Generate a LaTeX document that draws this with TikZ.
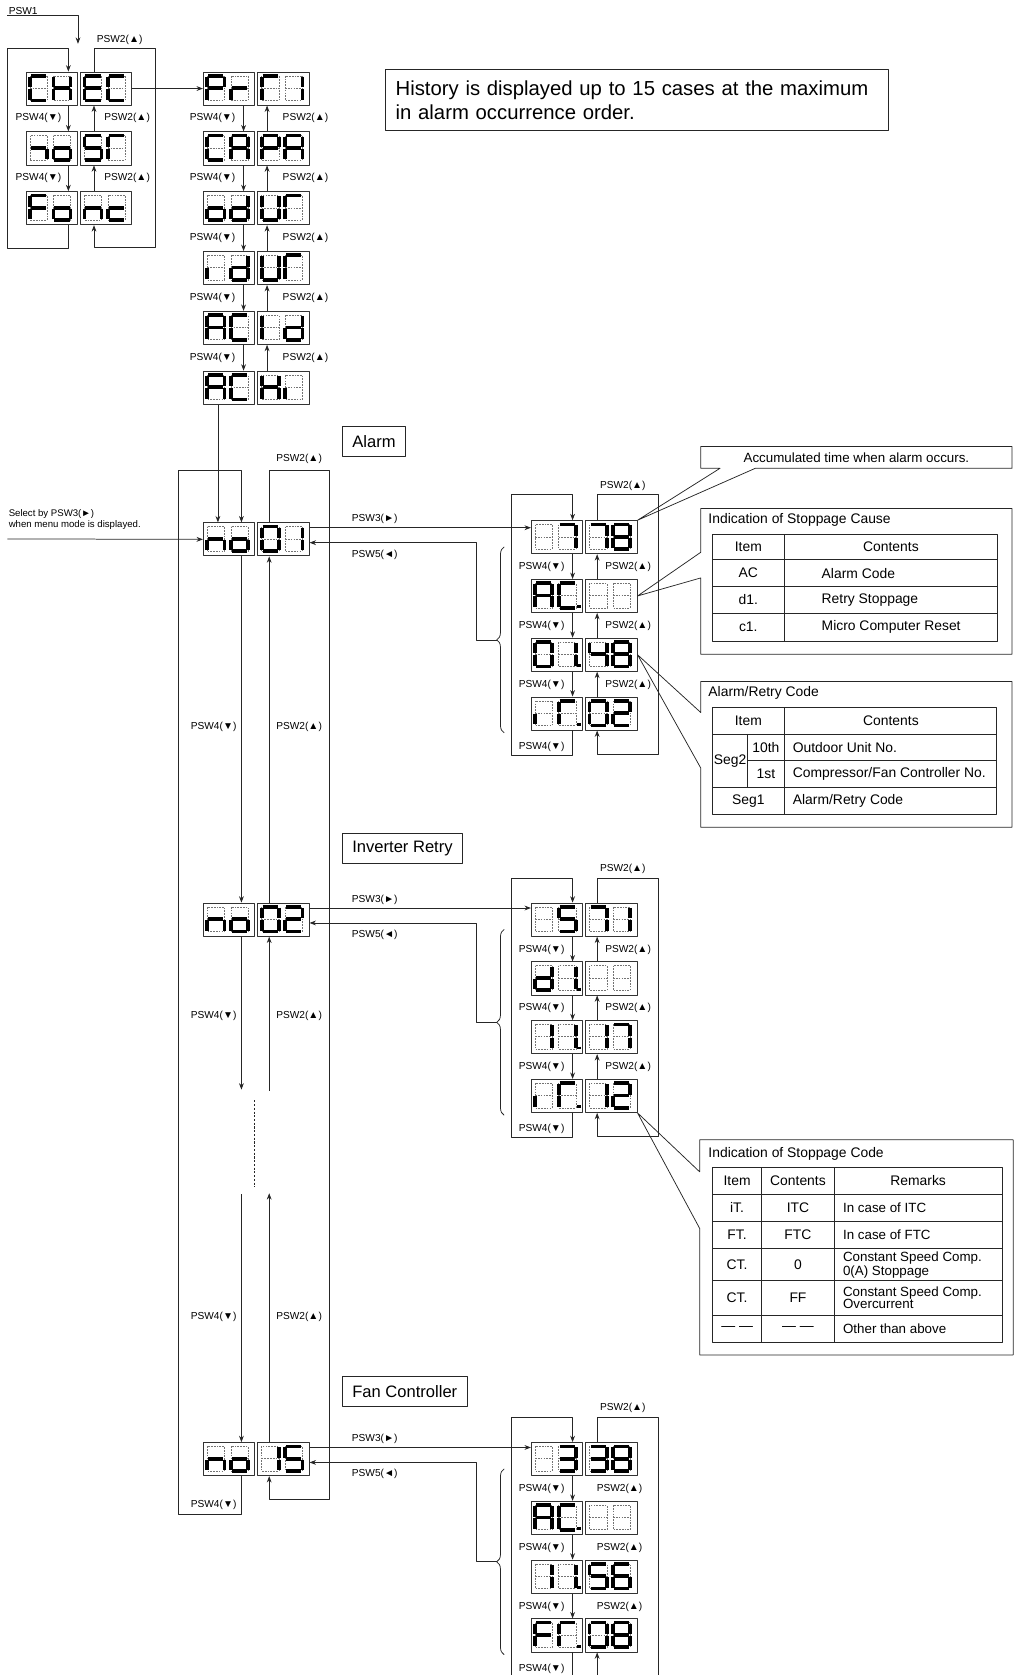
\documentclass[tikz,border=0pt]{standalone}
\usepackage{fontspec}
\setmainfont{Liberation Sans}
\usetikzlibrary{arrows.meta,decorations.pathreplacing}

% seven segment characters
\def\sgA{a,b,c,e,f,g}
\def\sgC{a,d,e,f}
\def\sgCp{a,d,e,f,p}
\def\sgE{a,d,e,f,g}
\def\sgF{a,e,f,g}
\def\sgH{b,c,e,f,g}
\def\sgI{e,f}
\def\sgP{a,b,e,f,g}
\def\sgS{a,f,g,c,d}
\def\sgU{b,c,d,e,f}
\def\sgG{a,e,f}
\def\sgGp{a,e,f,p}
\def\sgc{d,e,g}
\def\sgd{b,c,d,e,g}
\def\sgi{e}
\def\sgj{g,c}
\def\sgn{c,e,g}
\def\sgo{c,d,e,g}
\def\sgr{e,g}
\def\sgZero{a,b,c,d,e,f}
\def\sgOne{b,c}
\def\sgOnep{b,c,p}
\def\sgTwo{a,b,g,e,d}
\def\sgThree{a,b,g,c,d}
\def\sgFour{f,g,b,c}
\def\sgFive{a,f,g,c,d}
\def\sgSix{a,f,g,e,c,d}
\def\sgSeven{a,b,c}
\def\sgEight{a,b,c,d,e,f,g}
\def\sgBlank{z}

\tikzset{
  disp/.style={draw=black!80, line width=0.8pt, anchor=north west, minimum width=48pt, minimum height=31pt, inner sep=0pt},
  segoff/.style={draw=black!55, dash pattern=on 1.6pt off 1pt, line width=0.45pt},
  segon/.style={line width=3.4pt, line cap=butt},
  conn/.style={draw=black!85, line width=0.7pt},
  lbl/.style={inner sep=1pt, font=\fontsize{9.5}{11}\selectfont},
  sect/.style={draw=black!85, line width=0.7pt, anchor=north west, minimum height=28pt, inner xsep=9.5pt, font=\fontsize{15.5}{17}\selectfont},
  note/.style={inner sep=0pt, font=\fontsize{13}{15}\selectfont},
  cell/.style={inner sep=0pt, font=\fontsize{13}{13}\selectfont},
  callout/.style={anchor=north west, inner sep=0pt},
}

% one digit cell: x, y, segments
\newcommand{\dgt}[3]{%
  \begin{scope}[shift={(#1,#2)}]
    \draw[segoff] (0,0) rectangle (16,23) (0,11.5) -- (16,11.5);
    \foreach \s/\ax/\ay/\bx/\by in {a/0.8/0/15.2/0, b/16/0.8/16/10.7, c/16/12.3/16/22.2, d/0.8/23/15.2/23,
        e/0/12.3/0/22.2, f/0/0.8/0/10.7, g/0.8/11.5/15.2/11.5, p/19.3/20.8/19.3/23.4}
      {\coordinate (sg\s1) at (\ax,\ay); \coordinate (sg\s2) at (\bx,\by);}
    \foreach \s in #3 {\if\s z\else\draw[segon] (sg\s1) -- (sg\s2);\fi}
  \end{scope}}

% two boxes of two digits: name, x, y, digits
\newcommand{\disp}[7]{%
  \node[disp] (#1-l) at (#2,#3) {};
  \node[disp] (#1-r) at (#2+51,#3) {};
  \dgt{#2+4}{#3+4}{#4}\dgt{#2+26}{#3+4}{#5}\dgt{#2+55}{#3+4}{#6}\dgt{#2+77}{#3+4}{#7}}

\begin{document}
\begin{tikzpicture}[x=1pt, y=-1pt, line join=round, >={Stealth[length=6pt,width=4.5pt]}]
\useasboundingbox (0,0) rectangle (953,1568);

% menu
\disp{chec}{24}{67}\sgC\sgH\sgE\sgC
\disp{iosr}{24}{123}\sgj\sgo\sgS\sgG
\disp{fonc}{24}{179}\sgF\sgo\sgn\sgc

\disp{prfi}{190}{67}\sgP\sgr\sgG\sgOne
\disp{capa}{190}{123}\sgC\sgA\sgP\sgA
\disp{odur}{190}{179}\sgo\sgd\sgU\sgG
\disp{rdur}{190}{235}\sgi\sgd\sgU\sgG
\disp{acid}{190}{291}\sgA\sgC\sgI\sgd
\disp{achi}{190}{347}\sgA\sgC\sgH\sgi

\node[lbl, anchor=west] (psw1) at (7,10) {PSW1};
\coordinate (psw1end) at (73,41);
\draw[conn,->] (psw1.south west) -| (psw1end);
\node[lbl] (chec-up) at (112,37) {PSW2(▲)};

\foreach \a/\b in {chec/iosr, iosr/fonc} {
  \draw[conn,->] ([xshift=40pt]\a-l.south west) -- ([xshift=40pt]\b-l.north west);
  \draw[conn,->] ([xshift=13pt]\b-r.north west) -- ([xshift=13pt]\a-r.south west);
  \node[lbl] (\b-dn) at ([xshift=12pt,yshift=-12pt]\a-l.south west) {PSW4(▼)};
  \node[lbl] (\b-up) at ([xshift=44pt,yshift=-12pt]\a-r.south west) {PSW2(▲)};
}
\draw[conn,->] ([xshift=40pt]fonc-l.south west) -- ++(0,22) -| (7,45) -| ([xshift=40pt]chec-l.north west);
\draw[conn,->] ([xshift=13pt]chec-r.north west) -- ++(0,-22) -| (145,232) -| ([xshift=13pt]fonc-r.south west);
\draw[conn,->] (chec-r.east) -- (prfi-l.west);

\foreach \a/\b in {prfi/capa, capa/odur, odur/rdur, rdur/acid, acid/achi} {
  \draw[conn,->] ([xshift=38pt]\a-l.south west) -- ([xshift=38pt]\b-l.north west);
  \draw[conn,->] ([xshift=9pt]\b-r.north west) -- ([xshift=9pt]\a-r.south west);
  \node[lbl] (\b-dn) at ([xshift=9pt,yshift=-12pt]\a-l.south west) {PSW4(▼)};
  \node[lbl] (\b-up) at ([xshift=45pt,yshift=-12pt]\a-r.south west) {PSW2(▲)};
}

\node[draw=black!85, line width=0.7pt, anchor=north west, minimum width=471pt, minimum height=57pt,
  text width=451pt, align=left, inner xsep=10pt, font=\fontsize{19}{23}\selectfont] (hist) at (360,65)
  {History is displayed up to 15 cases at the maximum\\in alarm occurrence order.};

% history list
\node[sect] (alarm) at (320,399) {Alarm};
\node[sect] (invr) at (320,780) {Inverter Retry};
\node[sect] (fanc) at (320,1288) {Fan Controller};

\disp{no01}{190}{489}\sgn\sgo\sgZero\sgOne
\disp{no02}{190}{845}\sgn\sgo\sgZero\sgTwo
\disp{no15}{190}{1350}\sgn\sgo\sgOne\sgFive

\draw[conn,->] ([xshift=14pt]achi-l.south west) -- ([xshift=14pt]no01-l.north west);
\node[lbl, anchor=north west, align=left, font=\fontsize{9}{10.5}\selectfont] (sel) at (7,476)
  {Select by PSW3(►)\\when menu mode is displayed.};
\coordinate (selin) at (7,504.5);
\draw[conn,->] (selin) -- (no01-l.west);

\draw[conn,->] ([xshift=36pt]no15-l.south west) -- ++(0,36) -| (167,440) -| ([xshift=36pt]no01-l.north west);
\draw[conn,->] ([xshift=11pt]no01-r.north west) -- ++(0,-49) -| (308,1404) -| ([xshift=11pt]no15-r.south west);
\node[lbl] (no01-top) at (280,430) {PSW2(▲)};
\node[lbl] (no15-bot) at (200,1409) {PSW4(▼)};

\draw[conn,->] ([xshift=36pt]no01-l.south west) -- ([xshift=36pt]no02-l.north west);
\draw[conn,->] ([xshift=11pt]no02-r.north west) -- ([xshift=11pt]no01-r.south west);
\coordinate (gapdn) at (226,1020);
\coordinate (gapup) at (252,1021);
\coordinate (gaptop) at (238,1030);
\coordinate (gapbot) at (238,1111);
\coordinate (gapdn2) at (226,1118);
\coordinate (gapup2) at (252,1117);
\draw[conn,->] ([xshift=36pt]no02-l.south west) -- (gapdn);
\draw[conn,->] (gapup) -- ([xshift=11pt]no02-r.south west);
\draw[conn, dash pattern=on 2pt off 1.5pt, line width=0.5pt] (gaptop) -- (gapbot);
\draw[conn,->] (gapdn2) -- ([xshift=36pt]no15-l.north west);
\draw[conn,->] ([xshift=11pt]no15-r.north west) -- (gapup2);
\foreach \y in {680, 951, 1233} {
  \node[lbl] (dn-\y) at (200,\y) {PSW4(▼)};
  \node[lbl] (up-\y) at (280,\y) {PSW2(▲)};
}

% details
\disp{al1}{497}{487}\sgBlank\sgSeven\sgSeven\sgEight
\disp{al2}{497}{542}\sgA\sgCp\sgBlank\sgBlank
\disp{al3}{497}{597}\sgZero\sgOnep\sgFour\sgEight
\disp{al4}{497}{652}\sgi\sgGp\sgZero\sgTwo

\disp{iv1}{497}{845}\sgBlank\sgFive\sgSeven\sgOne
\disp{iv2}{497}{900}\sgd\sgOnep\sgBlank\sgBlank
\disp{iv3}{497}{955}\sgOne\sgOnep\sgOne\sgSeven
\disp{iv4}{497}{1010}\sgi\sgGp\sgOne\sgTwo

\disp{fn1}{497}{1350}\sgBlank\sgThree\sgThree\sgEight
\disp{fn2}{497}{1405}\sgA\sgCp\sgBlank\sgBlank
\disp{fn3}{497}{1460}\sgOne\sgOnep\sgFive\sgSix
\disp{fn4}{497}{1515}\sgF\sgGp\sgZero\sgEight

\foreach \g/\n/\y in {al/no01/487, iv/no02/845, fn/no15/1350} {
  \path (\n-r.north east) ++(0,5) coordinate (\g-p3) ++(0,14) coordinate (\g-p5);
  \draw[conn,->] (\g-p3) -- (\g-p3 -| \g1-l.west);
  \node[lbl] (\g-p3t) at ([xshift=61pt,yshift=8pt]\g-p3) {PSW3(►)};
  \node[lbl] (\g-p5t) at ([xshift=61pt,yshift=-11pt]\g-p5) {PSW5(◄)};
  \draw[conn, decorate, decoration={brace, amplitude=7pt}] (472,\y+199) -- (472,\y+25);
  \coordinate (\g-br) at (465,\y+112);
  \draw[conn,->] (\g-br) -- ++(-19,0) |- (\g-p5);
  \foreach \a/\b in {1/2, 2/3, 3/4} {
    \draw[conn,->] ([xshift=39pt]\g\a-l.south west) -- ([xshift=39pt]\g\b-l.north west);
    \node[lbl] (\g\b-dn) at ([xshift=10pt,yshift=-12pt]\g\a-l.south west) {PSW4(▼)};
  }
  \node[lbl] (\g-top) at ([xshift=35pt,yshift=32pt]\g1-r.north west) {PSW2(▲)};
  \node[lbl] (\g-bot) at ([xshift=10pt,yshift=-15pt]\g4-l.south west) {PSW4(▼)};
}
\foreach \g in {al, iv} {
  \foreach \a/\b in {1/2, 2/3, 3/4} {
    \draw[conn,->] ([xshift=11pt]\g\b-r.north west) -- ([xshift=11pt]\g\a-r.south west);
    \node[lbl] (\g\b-up) at ([xshift=40pt,yshift=-12pt]\g\a-r.south west) {PSW2(▲)};
  }
}
\draw[conn,->] ([xshift=39pt]al4-l.south west) -- ++(0,23) -| (479,463) -| ([xshift=39pt]al1-l.north west);
\draw[conn,->] ([xshift=11pt]al1-r.north west) -- ++(0,-24) -| (616,706) -| ([xshift=11pt]al4-r.south west);
\draw[conn,->] ([xshift=39pt]iv4-l.south west) -- ++(0,23) -| (479,822) -| ([xshift=39pt]iv1-l.north west);
\draw[conn,->] ([xshift=11pt]iv1-r.north west) -- ++(0,-23) -| (616,1064) -| ([xshift=11pt]iv4-r.south west);

\foreach \a/\b in {1/2, 2/3, 3/4}
  \node[lbl] (fn\b-up) at ([xshift=32pt,yshift=-12pt]fn\a-r.south west) {PSW2(▲)};
\coordinate (fanL) at (479,1568);
\coordinate (fanR) at (616,1568);
\coordinate (fanUp) at (559,1568);
\coordinate (fanDn) at (536,1568);
\draw[conn,->] (fanL) -- ++(0,-241) -| ([xshift=39pt]fn1-l.north west);
\draw[conn] ([xshift=11pt]fn1-r.north west) -- ++(0,-23) -| (fanR);
\draw[conn] ([xshift=39pt]fn4-l.south west) -- (fanDn);
\draw[conn,->] (fanUp) -- ([xshift=11pt]fn4-r.south west);

% call-outs
\node[callout, minimum width=291pt, minimum height=20pt, font=\fontsize{12.5}{14}\selectfont] (acc) at (656,418)
  {Accumulated time when alarm occurs.};
\draw[conn] (acc.north west) -- (acc.south west) -- ([xshift=18pt]acc.south west) -- (al1-r.north east)
  -- ([xshift=51pt]acc.south west) -- (acc.south east) -- (acc.north east) -- cycle;

\node[callout, minimum width=291pt, minimum height=136pt] (cause) at (656,476) {};
\draw[conn] (cause.north west) -- ([yshift=-41pt]cause.north west) -- (al2-r.east)
  -- ([yshift=-65pt]cause.north west) -- (cause.south west) -- (cause.south east) -- (cause.north east) -- cycle;
\node[note, anchor=west] (cause-t) at (663,487) {Indication of Stoppage Cause};
\draw[conn] (667,500) rectangle (934,600) (734,500) -- (734,600);
\foreach \y in {524,549,574} \draw[conn] (667,\y) -- (934,\y);
\node[cell] (ct-h1) at (700.5,512) {Item};
\node[cell] (ct-h2) at (834,512) {Contents};
\foreach \n/\y/\i/\c in {1/536.5/AC/Alarm Code, 2/561.5/d1./Retry Stoppage, 3/587/c1./Micro Computer Reset} {
  \node[cell] (ct-i\n) at (700.5,\y) {\i};
  \node[cell, anchor=west] (ct-c\n) at (769,\y) {\c};
}

\node[callout, minimum width=291pt, minimum height=136pt] (arc) at (656,638) {};
\draw[conn] (arc.north west) -- ([yshift=-29pt]arc.north west) -- (al3-r.east)
  -- ([yshift=-81pt]arc.north west) -- (arc.south west) -- (arc.south east) -- (arc.north east) -- cycle;
\node[note, anchor=west] (arc-t) at (663,649) {Alarm/Retry Code};
\draw[conn] (667,662) rectangle (933,762) (734,662) -- (734,762) (700,687) -- (700,737)
  (667,687) -- (933,687) (700,712) -- (933,712) (667,737) -- (933,737);
\node[cell] (rt-h1) at (700.5,674.5) {Item};
\node[cell] (rt-h2) at (834,674.5) {Contents};
\node[cell] (rt-s2) at (683.5,712) {Seg2};
\node[cell] (rt-10) at (717,699.5) {10th};
\node[cell] (rt-1) at (717,724.5) {1st};
\node[cell] (rt-s1) at (700.5,749.5) {Seg1};
\foreach \n/\y/\c in {1/699.5/{Outdoor Unit No.}, 2/724.5/{Compressor/Fan Controller No.}, 3/749.5/{Alarm/Retry Code}}
  \node[cell, anchor=west] (rt-c\n) at (742,\y) {\c};

\node[callout, minimum width=293pt, minimum height=201pt] (stc) at (655,1067) {};
\draw[conn] (stc.north west) -- ([yshift=-30pt]stc.north west) -- (iv4-r.south east)
  -- ([yshift=-83pt]stc.north west) -- (stc.south west) -- (stc.south east) -- (stc.north east) -- cycle;
\node[note, anchor=west] (stc-t) at (663,1080) {Indication of Stoppage Code};
\draw[conn] (667,1093) rectangle (938,1257) (713,1093) -- (713,1257) (781,1093) -- (781,1257);
\foreach \y in {1118,1143,1169,1199,1231} \draw[conn] (667,\y) -- (938,\y);
\node[cell] (sc-h1) at (690,1105.5) {Item};
\node[cell] (sc-h2) at (747,1105.5) {Contents};
\node[cell] (sc-h3) at (859.5,1105.5) {Remarks};
\foreach \n/\y/\i/\c/\r in {1/1130.5/iT./ITC/In case of ITC, 2/1156/FT./FTC/In case of FTC,
    3/1184/CT./0/Constant Speed Comp.\\0(A) Stoppage, 4/1215/CT./FF/Constant Speed Comp.\\Overcurrent,
    5/1244/— —/— —/Other than above} {
  \node[cell] (sc-i\n) at (690,\y) {\i};
  \node[cell] (sc-c\n) at (747,\y) {\c};
  \node[cell, anchor=west, align=left, font=\fontsize{12.5}{11.5}\selectfont] (sc-r\n) at (789,\y) {\r};
}
\end{tikzpicture}
\end{document}
